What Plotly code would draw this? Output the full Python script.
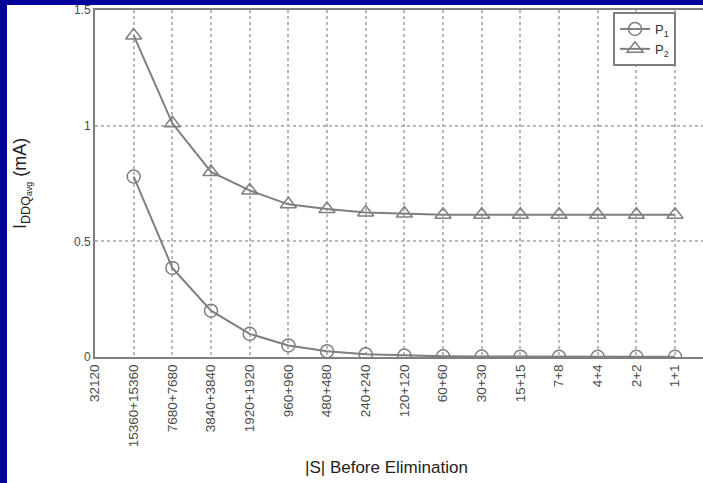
import plotly.graph_objects as go

categories = ["32120", "15360+15360", "7680+7680", "3840+3840", "1920+1920", "960+960",
              "480+480", "240+240", "120+120", "60+60", "30+30", "15+15", "7+8",
              "4+4", "2+2", "1+1"]
p1_vals = [None, 0.78, 0.385, 0.20, 0.10, 0.05, 0.025, 0.012, 0.006, 0.003,
           0.002, 0.001, 0.001, 0.001, 0.001, 0.001]
p2_vals = [None, 1.39, 1.01, 0.80, 0.72, 0.66, 0.64, 0.625, 0.62, 0.615,
           0.615, 0.615, 0.615, 0.615, 0.615, 0.615]
y_ticks = [0, 0.5, 1, 1.5]
y_tick_text = ["0", "0.5", "1", "1.5"]

W, H = 703, 483
L, T, B, R = 95, 10, 126, 0
pw, ph = W - L - R, H - T - B

xs = list(range(len(categories)))
gray = "#7f7f7f"

fig = go.Figure()
fig.add_trace(go.Scatter(x=xs, y=p1_vals, mode="lines+markers", name="P<sub>1</sub>",
                         line=dict(color=gray, width=2),
                         marker=dict(symbol="circle-open", size=13, color=gray,
                                     line=dict(width=1.5, color=gray))))
fig.add_trace(go.Scatter(x=xs, y=p2_vals, mode="lines+markers", name="P<sub>2</sub>",
                         line=dict(color=gray, width=2),
                         marker=dict(symbol="triangle-up-open", size=14, color=gray,
                                     line=dict(width=1.5, color=gray))))

def px_x(p):
    return (p - L) / pw

def px_y(p):
    return (H - B - p) / ph

fig.update_layout(
    width=W, height=H,
    margin=dict(l=L, r=R, t=T, b=B, autoexpand=False),
    paper_bgcolor="white", plot_bgcolor="white",
    font=dict(family="Liberation Sans, Arial, sans-serif", color="#333333"),
    showlegend=True,
    legend=dict(x=px_x(613), y=px_y(12), xanchor="left", yanchor="top",
                bgcolor="white", bordercolor=gray, borderwidth=2,
                font=dict(size=13, color="#333333"), itemwidth=30,
                tracegroupgap=0),
    xaxis=dict(range=[0, (W - L - R) / 38.67], tickmode="array", tickvals=xs,
               ticktext=categories, tickangle=-90, tickfont=dict(size=13.5, color="#4a4a4a"),
               showgrid=True, gridcolor="#b8b8b8", griddash="dot", gridwidth=2,
               showline=True, linecolor=gray, linewidth=2, mirror=True,
               zeroline=False, ticks="", automargin=False),
    yaxis=dict(range=[0, 1.5], tickmode="array", tickvals=y_ticks, ticktext=y_tick_text,
               tickfont=dict(size=12, color="#4a4a4a"),
               showgrid=True, gridcolor="#b8b8b8", griddash="dot", gridwidth=2,
               showline=True, linecolor=gray, linewidth=2, mirror=True,
               zeroline=False, ticks="", automargin=False),
    shapes=[
        dict(type="rect", xref="paper", yref="paper", x0=px_x(0), x1=px_x(7),
             y0=px_y(H), y1=px_y(0), fillcolor="#00009a", line=dict(width=0), layer="below"),
        dict(type="rect", xref="paper", yref="paper", x0=px_x(0), x1=px_x(W),
             y0=px_y(5), y1=px_y(0), fillcolor="#00009a", line=dict(width=0), layer="below"),
    ],
    annotations=[
        dict(text="|S| Before Elimination", xref="paper", yref="paper",
             x=px_x(386), y=px_y(467), xanchor="center", yanchor="middle",
             showarrow=False, font=dict(size=17, color="#222222")),
        dict(text="I<sub>DDQ<sub>avg</sub></sub> (mA)", xref="paper", yref="paper",
             x=px_x(22), y=px_y(184), xanchor="center", yanchor="middle",
             showarrow=False, textangle=-90,
             font=dict(size=18, color="#222222")),
    ],
)

fig.write_html("out.html")
